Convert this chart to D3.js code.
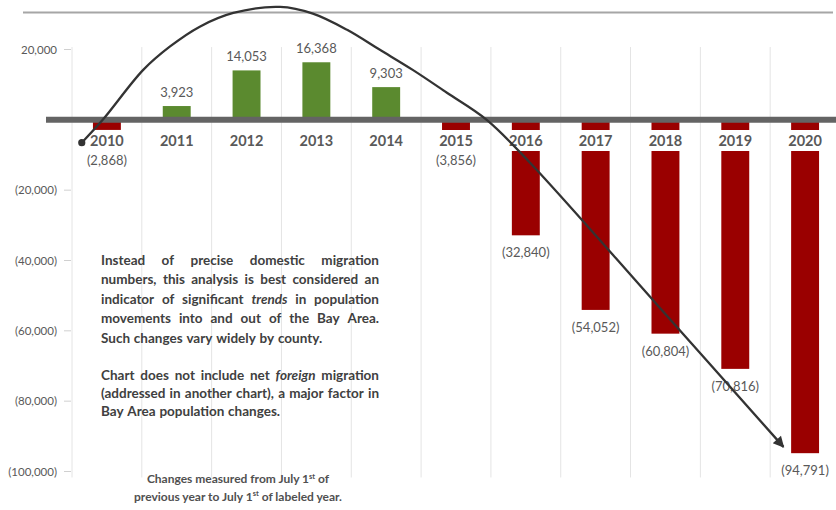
<!DOCTYPE html>
<html><head><meta charset="utf-8">
<script src="https://cdn.jsdelivr.net/npm/d3@7/dist/d3.min.js"></script>
<style>body{margin:0;background:#fff}svg{display:block}</style>
</head><body>
<svg id="c" width="836" height="510"></svg>
<script>
// ---- data ----
const years = ["2010","2011","2012","2013","2014","2015","2016","2017","2018","2019","2020"];
const values = [-2868, 3923, 14053, 16368, 9303, -3856, -32840, -54052, -60804, -70816, -94791];
const yTicks = [20000, -20000, -40000, -60000, -80000, -100000];
// hand-drawn trend arrow, in (category index, value) space
const trendIdx = [-0.36, -0.06, 0.52, 0.90, 1.33, 1.81, 2.48, 2.95, 3.44, 3.91, 4.38, 4.87, 5.44, 6.06, 7.87, 9.69];
const trendVal = [-6500, 0, 14200, 20800, 26500, 30400, 32100, 30200, 25600, 19900, 14200, 7700, 0, -12200, -52350, -93000];
const para1 = [
  [{t:"Instead of precise domestic migration"}],
  [{t:"numbers, this analysis is best considered an"}],
  [{t:"indicator of significant"},{t:"trends",i:1},{t:"in population"}],
  [{t:"movements into and out of the Bay Area."}],
  [{t:"Such changes vary widely by county."}]
];
const para2 = [
  [{t:"Chart does not include net"},{t:"foreign",i:1},{t:"migration"}],
  [{t:"(addressed in another chart), a major factor in"}],
  [{t:"Bay Area population changes."}]
];
const footLines = [["Changes measured from July 1","st"," of"],["previous year to July 1","st"," of labeled year."]];

// ---- setup ----
const svg = d3.select("#c");
const FONT = "Lato, 'Open Sans', sans-serif";
const GREEN = "#5b8a2f", RED = "#9a0000", GREY = "#595959";

const x = d3.scaleBand().domain(years).range([72, 840]).paddingInner(0.6).paddingOuter(0.3);
const y = d3.scaleLinear().domain([-100000, 20000]).range([471.5, 49.5]);
const bw = x.bandwidth(), step = x.step();
const xIdx = d3.scaleLinear().domain([0, years.length - 1])
  .range([x(years[0]) + bw / 2, x(years[years.length - 1]) + bw / 2]);
const fmt = v => v < 0 ? "(" + d3.format(",")(-v) + ")" : d3.format(",")(v);

// top rule
svg.append("line").attr("x1", 23).attr("x2", 833).attr("y1", 12.5).attr("y2", 12.5)
  .attr("stroke", "#a6a6a6").attr("stroke-width", 2);

// vertical gridlines at category boundaries
const bounds = years.map(yr => x(yr) - (step - bw) / 2);
bounds.push(x(years[years.length - 1]) + bw + (step - bw) / 2);
svg.append("g").selectAll("line").data(bounds).join("line")
  .attr("x1", d => d).attr("x2", d => d)
  .attr("y1", y(20700)).attr("y2", y(-101700))
  .attr("stroke", "#e4e4e4").attr("stroke-width", 1);

// y axis labels + ticks
const ya = svg.append("g");
ya.selectAll("text").data(yTicks).join("text")
  .attr("x", 57).attr("y", d => y(d)).attr("dy", "0.35em")
  .attr("text-anchor", "end").attr("font-family", FONT).attr("font-size", 11.5)
  .attr("fill", GREY).text(fmt);
ya.selectAll("line").data(yTicks).join("line")
  .attr("x1", 64).attr("x2", 71).attr("y1", d => y(d)).attr("y2", d => y(d))
  .attr("stroke", "#d0d0d0");

// bars
const data = years.map((yr, i) => ({yr, v: values[i]}));
svg.append("g").selectAll("rect").data(data).join("rect")
  .attr("x", d => x(d.yr)).attr("width", bw)
  .attr("y", d => y(Math.max(0, d.v)))
  .attr("height", d => Math.abs(y(d.v) - y(0)))
  .attr("fill", d => d.v >= 0 ? GREEN : RED);

// white backing behind category labels
svg.append("g").selectAll("rect").data(data).join("rect")
  .attr("x", d => x(d.yr) - 4).attr("width", bw + 8)
  .attr("y", 130).attr("height", 21).attr("fill", "#fff");

// zero line
svg.append("line").attr("x1", 46).attr("x2", 836).attr("y1", y(0)).attr("y2", y(0))
  .attr("stroke", "#646464").attr("stroke-width", 6);

// category labels
svg.append("g").selectAll("text").data(data).join("text")
  .attr("x", d => x(d.yr) + bw / 2).attr("y", 141).attr("dy", "0.35em")
  .attr("text-anchor", "middle").attr("font-family", FONT).attr("font-weight", "bold")
  .attr("font-size", 14.5).attr("fill", GREY).text(d => d.yr);

// value labels
svg.append("g").selectAll("text").data(data).join("text")
  .attr("x", d => x(d.yr) + bw / 2)
  .attr("y", d => d.v >= 0 ? y(d.v) - 14 : Math.max(y(d.v) + 17.5, 160))
  .attr("dy", "0.35em").attr("text-anchor", "middle")
  .attr("font-family", FONT).attr("font-size", 13).attr("fill", GREY)
  .text(d => fmt(d.v));

// justified note paragraphs
function drawPara(lines, y0, lh) {
  const left = 101, right = 379;
  lines.forEach((segs, li) => {
    const words = [];
    segs.forEach(s => s.t.split(" ").forEach(w => words.push({w, i: s.i})));
    const g = svg.append("g");
    const yy = y0 + li * lh;
    const nodes = words.map(w => g.append("text").attr("x", left).attr("y", yy)
      .attr("font-family", FONT).attr("font-weight", "bold").attr("font-size", 13.5)
      .attr("font-style", w.i ? "italic" : "normal").attr("fill", "#404040").text(w.w));
    const widths = nodes.map(n => n.node().getComputedTextLength());
    const total = d3.sum(widths);
    const last = li === lines.length - 1;
    const gap = last ? 3.8 : (right - left - total) / (words.length - 1);
    let cx = left;
    nodes.forEach((n, k) => { n.attr("x", cx); cx += widths[k] + gap; });
  });
}
drawPara(para1, 264.5, 19.5);
drawPara(para2, 379.5, 18.3);

// footnote
footLines.forEach((parts, i) => {
  const t = svg.append("text").attr("x", 238).attr("y", 483 + i * 17.5)
    .attr("text-anchor", "middle").attr("font-family", FONT).attr("font-weight", "bold")
    .attr("font-size", 12).attr("fill", "#505050");
  t.append("tspan").text(parts[0]);
  t.append("tspan").attr("font-size", 7.5).attr("dy", -4.5).text(parts[1]);
  t.append("tspan").attr("dy", 4.5).text(parts[2]);
});

// trend arrow
svg.append("defs").append("marker").attr("id", "ah")
  .attr("viewBox", "0 0 10 10").attr("refX", 9).attr("refY", 5)
  .attr("markerUnits", "userSpaceOnUse").attr("markerWidth", 13).attr("markerHeight", 11)
  .attr("orient", "auto")
  .append("path").attr("d", "M0,0 L10,5 L0,10 z").attr("fill", "#333");
const pts = trendIdx.map((t, i) => [t, trendVal[i]]);
const line = d3.line().x(d => xIdx(d[0])).y(d => y(d[1])).curve(d3.curveCatmullRom.alpha(0.5));
svg.append("path").attr("d", line(pts)).attr("fill", "none")
  .attr("stroke", "#333").attr("stroke-width", 2.3).attr("marker-end", "url(#ah)");
svg.append("circle").attr("cx", xIdx(pts[0][0])).attr("cy", y(pts[0][1])).attr("r", 3.6).attr("fill", "#333");
</script>
</body></html>
